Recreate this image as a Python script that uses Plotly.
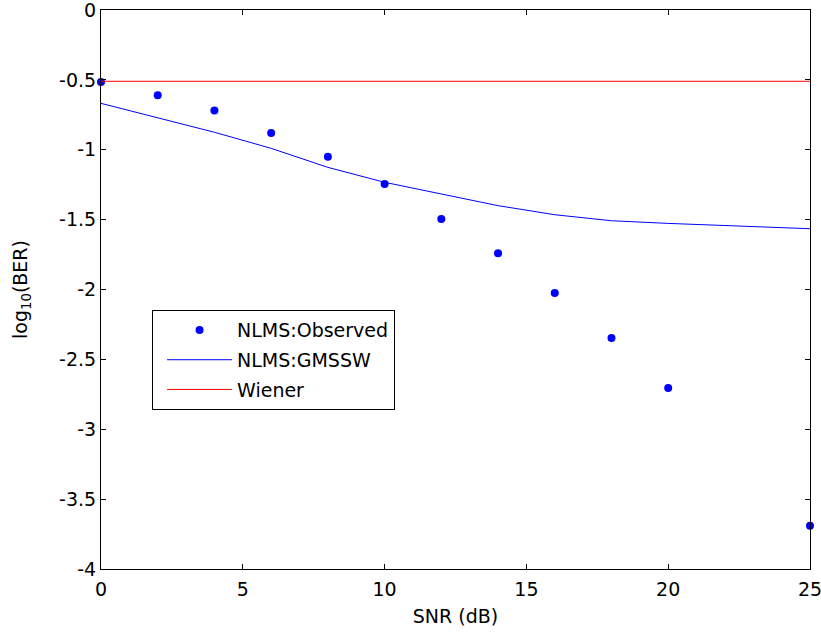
import plotly.graph_objects as go

# SNR sweep (dB)
snr_obs = [0, 2, 4, 6, 8, 10, 12, 14, 16, 18, 20, 25]
ber_obs = [-0.515, -0.61, -0.72, -0.88, -1.05, -1.245, -1.495, -1.74, -2.025, -2.347, -2.705, -3.69]

snr_gmssw = [0, 2, 4, 6, 8, 10, 12, 14, 16, 18, 20, 25]
ber_gmssw = [-0.668, -0.771, -0.875, -0.99, -1.126, -1.233, -1.319, -1.40, -1.465, -1.508, -1.527, -1.565]

snr_wiener = [0, 25]
ber_wiener = [-0.51, -0.51]

x_ticks = [0, 5, 10, 15, 20, 25]
y_ticks = [0, -0.5, -1, -1.5, -2, -2.5, -3, -3.5, -4]
y_ticklabels = ["0", "-0.5", "-1", "-1.5", "-2", "-2.5", "-3", "-3.5", "-4"]

FONT = "DejaVu Sans, Verdana, sans-serif"
FS = 19

fig = go.Figure()
fig.add_trace(go.Scatter(
    x=snr_obs, y=ber_obs, mode="markers", name="NLMS:Observed",
    marker=dict(color="#0000ff", size=8), cliponaxis=False, legendgroup="a",
))
fig.add_trace(go.Scatter(
    x=snr_gmssw, y=ber_gmssw, mode="lines", name="NLMS:GMSSW",
    line=dict(color="#0000ff", width=1), legendgroup="b",
))
fig.add_trace(go.Scatter(
    x=snr_wiener, y=ber_wiener, mode="lines", name="Wiener",
    line=dict(color="#ff0000", width=1), legendgroup="c",
))

axis_common = dict(
    showline=True, linecolor="black", linewidth=1, mirror="allticks",
    ticks="inside", ticklen=5, tickcolor="black", tickwidth=1,
    showgrid=False, zeroline=False, automargin=False,
    ticklabeloverflow="allow",
    tickfont=dict(family=FONT, size=FS, color="black"),
)

fig.update_layout(
    width=821, height=632,
    margin=dict(l=101, r=11, t=10, b=63),
    paper_bgcolor="white", plot_bgcolor="white",
    font=dict(family=FONT, size=FS, color="black"),
    xaxis=dict(range=[0, 25], tickvals=x_ticks, ticklabelstandoff=3,
               title=dict(text="SNR (dB)", font=dict(family=FONT, size=FS), standoff=10),
               **axis_common),
    yaxis=dict(range=[-4, 0], tickvals=y_ticks, ticktext=y_ticklabels,
               title=dict(text="log<sub>10</sub>(BER)", font=dict(family=FONT, size=FS), standoff=26),
               **axis_common),
    legend=dict(
        x=0.072, y=0.463, xanchor="left", yanchor="top",
        bgcolor="white", bordercolor="black", borderwidth=1,
        font=dict(family=FONT, size=FS, color="black"),
        itemwidth=65, tracegroupgap=2, traceorder="grouped", indentation=9,
    ),
    showlegend=True,
)

fig.write_html("out.html")
